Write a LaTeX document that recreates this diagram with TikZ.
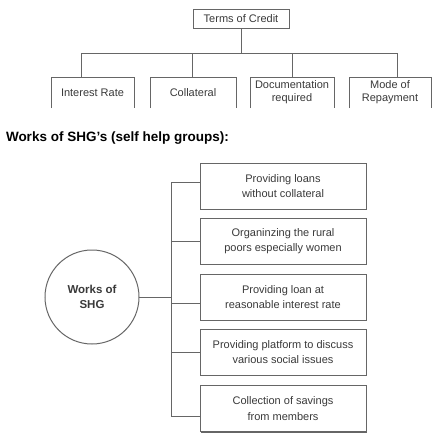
\documentclass[tikz,border=0pt]{standalone}
\usepackage{fontspec}
\setmainfont{Liberation Sans}
\usetikzlibrary{shadows,calc}
\definecolor{txt}{HTML}{3A3A3A}
\definecolor{ln}{HTML}{666666}
\begin{document}
\begin{tikzpicture}[x=1pt,y=1pt,
  every node/.style={inner sep=0pt, outer sep=0pt, text=txt, align=center},
  conn/.style={draw=ln, line width=1pt},
  topbox/.style={minimum height=31pt, font=\fontsize{11}{13}\selectfont},
  headbox/.style={draw=ln, line width=1pt, minimum width=96pt, minimum height=19pt, font=\fontsize{11}{13}\selectfont},
  workbox/.style={draw=ln, line width=1pt, fill=white, minimum width=166pt, minimum height=46pt,
    font=\fontsize{11}{15.5}\selectfont,
    drop shadow={shadow xshift=1.2pt, shadow yshift=-1.2pt, fill=ln, opacity=1}},
  hub/.style={circle, draw=ln, line width=1pt, minimum size=94pt, font=\bfseries\fontsize{11.5}{15}\selectfont}
]
\useasboundingbox[fill=white] (0,0) rectangle (437,-439);

% Terms of credit
\node[headbox] (toc) at (241,-18.5) {Terms of Credit};
\node[topbox, minimum width=83pt] (b1) at (92.5,-92.5) {Interest Rate};
\node[topbox, minimum width=86pt] (b2) at (193,-92.5) {Collateral};
\node[topbox, minimum width=84pt] (b3) at (292,-92.5) {Documentation\\required};
\node[topbox, minimum width=82pt] (b4) at (390,-92.5) {Mode of\\Repayment};
\foreach \b in {b1,b2,b3,b4}{
  \draw[conn] (\b.south west) |- (\b.north east) -- (\b.south east);
}
\coordinate (tbus) at (241,-53);
\draw[conn] (toc.south) -- (tbus);
\draw[conn] ([xshift=-11.5pt]b1.north) |- (tbus);
\draw[conn] ([xshift=-1pt]b2.north) |- (tbus);
\draw[conn] (b3.north) |- (tbus);
\draw[conn] ([xshift=7pt]b4.north) |- (tbus);

% Title
\node[anchor=west, text=black, font=\bfseries\fontsize{13.5}{16}\selectfont] (title) at (6,-138) {Works of SHG’s (self help groups):};

% Works of SHG
\node[hub] (hub) at (92,-297) {Works of\\SHG};
\node[workbox] (w1) at (283,-186) {Providing loans\\without collateral};
\node[workbox] (w2) at (283,-241) {Organinzing the rural\\poors especially women};
\node[workbox] (w3) at (283,-297) {Providing loan at\\reasonable interest rate};
\node[workbox] (w4) at (283,-352) {Providing platform to discuss\\various social issues};
\node[workbox] (w5) at (283,-408.5) {Collection of savings\\from members};

\coordinate (bt) at (171,-182);
\coordinate (bb) at (171,-416);
\draw[conn] (bt) -- (bb);
\draw[conn] ([yshift=4pt]w1.west) -- (bt);
\draw[conn] (w2.west) -| (bt);
\draw[conn] ([yshift=-6pt]w3.west) -| (bt);
\draw[conn] (w4.west) -| (bt);
\draw[conn] ([yshift=-7.5pt]w5.west) -| (bt);
\draw[conn] (hub.east) -| (bt);
\end{tikzpicture}
\end{document}
